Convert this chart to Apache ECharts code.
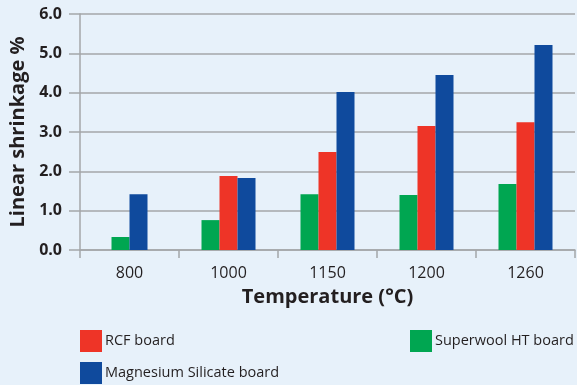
<!DOCTYPE html>
<html>
<head>
<meta charset="utf-8">
<script src="https://cdn.jsdelivr.net/npm/echarts@6/dist/echarts.min.js"></script>
<style>
  html, body { margin: 0; padding: 0; background: #e7f1fa; }
  #chart { width: 577px; height: 385px; }
</style>
</head>
<body>
<div id="chart"></div>
<script>
// Linear shrinkage (%) of three board types after firing at each temperature
const temperatures = ['800', '1000', '1150', '1200', '1260'];
const superwoolHT = [0.33, 0.76, 1.42, 1.40, 1.68];
const rcfBoard = [null, 1.88, 2.49, 3.15, 3.25];
const magnesiumSilicate = [1.42, 1.83, 4.02, 4.45, 5.21];
const yTicks = [0, 1, 2, 3, 4, 5, 6];

const NAMES = {
  sw: 'Superwool HT board',
  rcf: 'RCF board',
  mg: 'Magnesium Silicate board'
};
const COLORS = { sw: '#00a651', rcf: '#ee3427', mg: '#0f4a9d' };
const FONT = '"Open Sans", Lato, sans-serif';
const INK = '#231f20';
const GRID_GRAY = '#a4a6a9';

// Temperatures without an RCF value show their remaining pair of bars
// centred on the category, so they are drawn on a twin (hidden) axis.
const paired = rcfBoard.map(v => v == null);
const pick = (arr, keep) => arr.map((v, i) => (keep(i) ? v : null));
const isTriple = i => !paired[i];
const isPair = i => paired[i];

const barBase = { type: 'bar', barWidth: 18, barGap: '0%' };

const series = [
  Object.assign({}, barBase, { name: NAMES.sw, xAxisIndex: 0, data: pick(superwoolHT, isTriple), itemStyle: { color: COLORS.sw } }),
  Object.assign({}, barBase, { name: NAMES.rcf, xAxisIndex: 0, data: pick(rcfBoard, isTriple), itemStyle: { color: COLORS.rcf } }),
  Object.assign({}, barBase, { name: NAMES.mg, xAxisIndex: 0, data: pick(magnesiumSilicate, isTriple), itemStyle: { color: COLORS.mg } }),
  Object.assign({}, barBase, { name: NAMES.sw, xAxisIndex: 1, data: pick(superwoolHT, isPair), itemStyle: { color: COLORS.sw } }),
  Object.assign({}, barBase, { name: NAMES.mg, xAxisIndex: 1, data: pick(magnesiumSilicate, isPair), itemStyle: { color: COLORS.mg } })
];

const legendBase = {
  orient: 'horizontal',
  padding: 0,
  itemWidth: 22,
  itemHeight: 22,
  itemGap: 0,
  icon: 'rect',
  textStyle: { fontFamily: FONT, fontSize: 14.5, color: INK, padding: [0, 0, 0, -2] }
};

const option = {
  backgroundColor: '#e7f1fa',
  animation: false,
  grid: { left: 80, right: 2, top: 14, bottom: 135, containLabel: false },
  legend: [
    Object.assign({}, legendBase, { data: [NAMES.rcf], left: 80, top: 330 }),
    Object.assign({}, legendBase, { data: [NAMES.sw], left: 410, top: 330 }),
    Object.assign({}, legendBase, { data: [NAMES.mg], left: 80, top: 362 })
  ],
  xAxis: [
    {
      type: 'category',
      data: temperatures,
      axisLine: { show: true, lineStyle: { color: GRID_GRAY, width: 1.5 } },
      axisTick: { show: true, length: 8, alignWithLabel: false, lineStyle: { color: GRID_GRAY, width: 1.5 } },
      axisLabel: { fontFamily: FONT, fontSize: 16, color: INK, margin: 15 },
      name: 'Temperature (°C)',
      nameLocation: 'middle',
      nameGap: 37,
      nameTextStyle: { fontFamily: FONT, fontSize: 20, fontWeight: 'bold', color: INK }
    },
    {
      type: 'category',
      data: temperatures,
      show: false
    }
  ],
  yAxis: {
    type: 'value',
    min: yTicks[0],
    max: yTicks[yTicks.length - 1],
    interval: 1,
    axisLine: { show: true, lineStyle: { color: GRID_GRAY, width: 1.5 } },
    axisTick: { show: true, length: 11, lineStyle: { color: GRID_GRAY, width: 1.5 } },
    splitLine: { show: true, lineStyle: { color: GRID_GRAY, width: 1.5 } },
    axisLabel: {
      fontFamily: FONT, fontSize: 16, fontWeight: 'bold', color: INK, margin: 18,
      formatter: v => v.toFixed(1)
    },
    name: 'Linear shrinkage %',
    nameLocation: 'middle',
    nameRotate: 90,
    nameGap: 49,
    nameTextStyle: { fontFamily: FONT, fontSize: 20, fontWeight: 'bold', color: INK }
  },
  series: series
};

const chart = echarts.init(document.getElementById('chart'), null, { renderer: 'canvas' });
chart.setOption(option);
</script>
</body>
</html>
